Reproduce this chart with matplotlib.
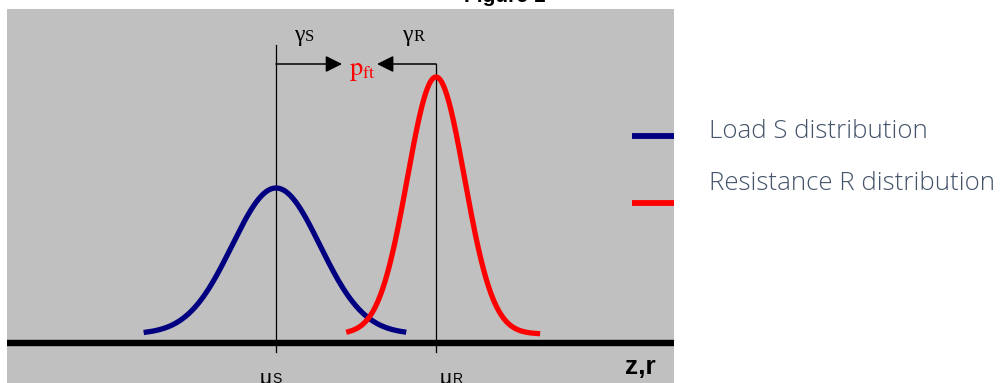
import numpy as np
import matplotlib
matplotlib.use("Agg")
import matplotlib.pyplot as plt

plt.rcParams['mathtext.fontset'] = 'stix'

# distribution parameters (z units, height units)
names = ["Load S distribution", "Resistance R distribution"]
colors = ["#000080", "#ff0000"]
means = [10.0, 17.27]
sigmas = [2.0, 1.3]
peaks = [1.46, 2.57]
# how far each drawn curve runs, in sigmas (left, right)
spans = [(-2.95, 2.9), (-3.05, 3.55)]

fig = plt.figure(figsize=(10, 3.83), dpi=100)
ax = fig.add_axes([0.007, 0.0, 0.667, 1 - 9 / 383])
ax.set_xlim(-2.23, 28.09)
ax.set_ylim(-0.49, 3.25)
ax.axis("off")
ax.add_patch(plt.Rectangle((0, 0), 1, 1, transform=ax.transAxes,
                           color="#c0c0c0", zorder=0))

# z,r axis
ax.axhline(-0.09, color="black", lw=4.6, zorder=3)

# mean lines
ax.plot([means[0], means[0]], [-0.18, 2.89], color="black", lw=0.9, zorder=2)
ax.plot([means[1], means[1]], [-0.18, 2.70], color="black", lw=0.9, zorder=2)

for m, s, p, (a, b), c in zip(means, sigmas, peaks, spans, colors):
    z = np.linspace(m + a * s, m + b * s, 300)
    ax.plot(z, p * np.exp(-0.5 * ((z - m) / s) ** 2), color=c, lw=3.8,
            zorder=4)

# safety factor arrows
arr = dict(arrowstyle="-|>,head_length=1.0,head_width=0.5", color="black",
           lw=1.1, shrinkA=0, shrinkB=0)
ax.annotate("", xy=(13.0, 2.70), xytext=(means[0], 2.70), arrowprops=arr)
ax.annotate("", xy=(14.59, 2.70), xytext=(means[1], 2.70), arrowprops=arr)

ax.text(13.3, 2.64, r"$\mathrm{p}_{\mathrm{ft}}$", color="red", fontsize=19,
        va="center", ha="left")
ax.text(10.83, 2.93, "γ", family="Liberation Serif", fontsize=17,
        va="baseline", ha="left")
ax.text(11.33, 2.93, "S", family="Liberation Serif", fontsize=12,
        va="baseline", ha="left")
ax.text(15.74, 2.93, "γ", family="Liberation Serif", fontsize=17,
        va="baseline", ha="left")
ax.text(16.24, 2.93, "R", family="Liberation Serif", fontsize=12,
        va="baseline", ha="left")

ax.text(9.27, -0.35, "μ", family="Liberation Sans", fontsize=15,
        va="top", ha="left")
ax.text(9.85, -0.38, "S", family="Liberation Sans", fontsize=10,
        va="top", ha="left")
ax.text(17.45, -0.35, "μ", family="Liberation Sans", fontsize=15,
        va="top", ha="left")
ax.text(18.03, -0.38, "R", family="Liberation Sans", fontsize=10,
        va="top", ha="left")
ax.text(25.86, -0.33, "z,r", family="Liberation Sans", fontweight="bold",
        fontsize=19, va="center", ha="left")

# legend drawn by hand, as in the source
for yl, c in zip([1.98, 1.31], colors):
    ax.plot([26.18, 28.09], [yl, yl], color=c, lw=4.2, solid_capstyle="butt",
            clip_on=False, zorder=5)
for yt, name in zip([0.657, 0.522], names):
    fig.text(0.709, yt, name, family="Open Sans", fontweight="light",
             fontsize=18.6, color="#44546a", va="center", ha="left")

fig.text(0.505, 1 - 2 / 383, "Figure 1", family="Liberation Sans",
         fontweight="bold", fontsize=15, ha="center", va="baseline")

fig.savefig("out.png", dpi=100)
